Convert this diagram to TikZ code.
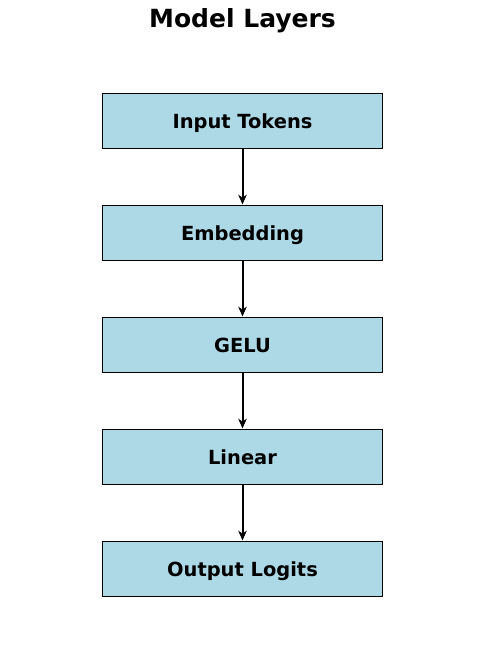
\documentclass[tikz,border=0pt]{standalone}
\usepackage{fontspec}
\setmainfont{DejaVu Sans}
\usetikzlibrary{arrows.meta}
\definecolor{layerblue}{HTML}{ADD8E6}

\begin{document}
\begin{tikzpicture}[x=0.72pt, y=-0.72pt,
	layer/.style={draw=black, line width=0.72pt, fill=layerblue,
		minimum width=200.9pt, minimum height=40.3pt, inner sep=0pt,
		text depth=0pt, font=\fontsize{14}{16}\selectfont\bfseries},
	flow/.style={-{Stealth[length=7pt, width=6pt, inset=2pt]}, line width=1.44pt}]
	\useasboundingbox (0,0) rectangle (484,663);
	\node [font=\fontsize{18}{21}\selectfont\bfseries] (title) at (242.5,21) {Model Layers};
	\node [layer] (inp) at (242.5,121) {Input Tokens};
	\node [layer] (emb) at (242.5,233) {Embedding};
	\node [layer] (gelu) at (242.5,345) {GELU};
	\node [layer] (lin) at (242.5,457) {Linear};
	\node [layer] (out) at (242.5,569) {Output Logits};
	\draw [flow] (inp) -- (emb);
	\draw [flow] (emb) -- (gelu);
	\draw [flow] (gelu) -- (lin);
	\draw [flow] (lin) -- (out);
\end{tikzpicture}
\end{document}
